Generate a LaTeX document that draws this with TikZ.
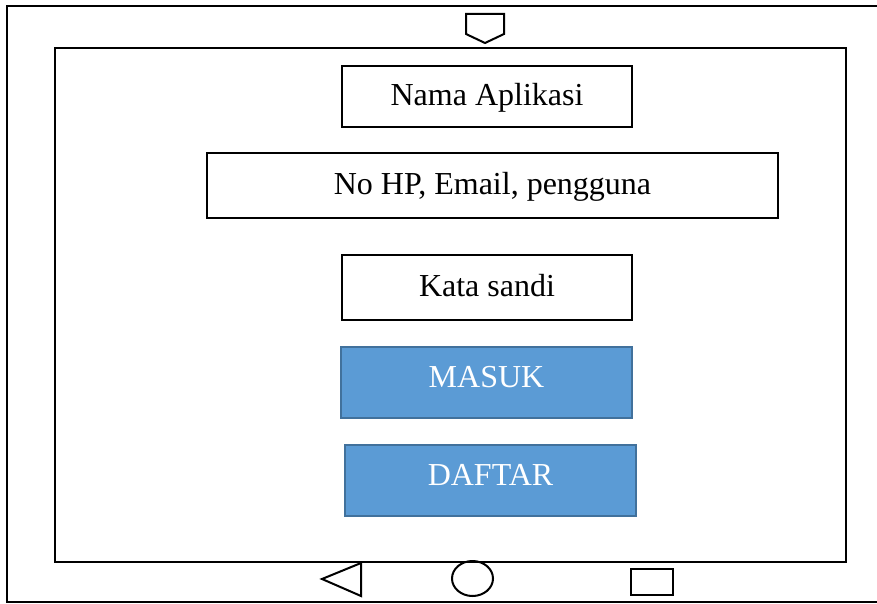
\documentclass[tikz,border=0pt]{standalone}
\usepackage{fontspec}
\setmainfont{Liberation Serif}
\definecolor{btnfill}{HTML}{5B9BD5}
\definecolor{btnline}{HTML}{41719C}
\begin{document}
\begin{tikzpicture}[x=1pt,y=-1pt,
  frame/.style={line width=2pt,draw=black},
  fieldbox/.style={draw=black,line width=2pt,fill=white,inner sep=0pt,
     font=\fontsize{32}{38}\selectfont,text height=22pt,text depth=4.5pt},
  btnbox/.style={draw=btnline,line width=2pt,fill=btnfill,inner sep=0pt,text=white,
     font=\fontsize{32}{38}\selectfont,text height=22pt,text depth=12pt},
  icon/.style={line width=2pt,draw=black}]
\useasboundingbox (0,0) rectangle (877,604);
\clip (0,0) rectangle (877,604);
\fill[white] (0,0) rectangle (877,604);
% device frame
\draw[frame] (890,6) -- (7,6) -- (7,602) -- (890,602);
% screen
\draw[frame] (55,48) rectangle (846,562);
% top sensor
\draw[icon,line join=miter] (466,14) -- (504,14) -- (504,34) -- (485,43) -- (466,34) -- cycle;
% fields
\node[fieldbox,minimum width=290pt,minimum height=61pt] (nama) at (487,96.5) {Nama Aplikasi};
\node[fieldbox,minimum width=571pt,minimum height=65pt] (user) at (492.5,185.5) {No HP, Email, pengguna};
\node[fieldbox,minimum width=290pt,minimum height=65pt] (sandi) at (487,287.5) {Kata sandi};
\node[btnbox,minimum width=291pt,minimum height=71pt] (masuk) at (486.5,382.5) {MASUK};
\node[btnbox,minimum width=291pt,minimum height=71pt] (daftar) at (490.5,480.5) {DAFTAR};
% navigation icons
\draw[icon] (361,563) -- (322,579) -- (361,596) -- cycle;
\draw[icon] (472.5,578.5) ellipse [x radius=20.5, y radius=17.5];
\draw[icon] (631,569) rectangle (673,595);
\end{tikzpicture}
\end{document}
